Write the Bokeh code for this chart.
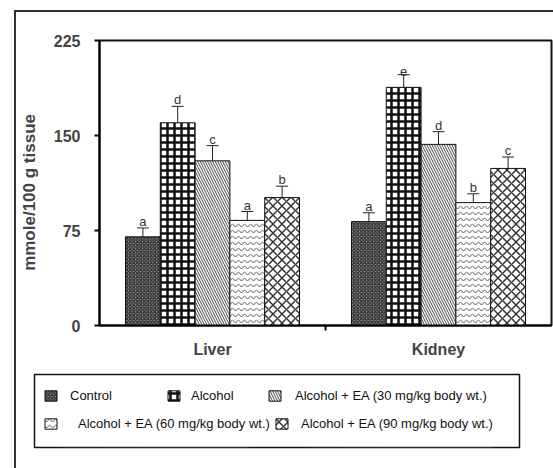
from bokeh.plotting import figure
from bokeh.layouts import column
from bokeh.models import (Range1d, LinearAxis, FixedTicker, ColumnDataSource, Whisker,
                          TeeHead, Legend, LegendItem)
from bokeh.core.properties import value
from bokeh.embed import file_html
from bokeh.resources import INLINE

# Values (mmole/100 g tissue) per treatment, for Liver and Kidney
organs = ["Liver", "Kidney"]
treatments = ["Control", "Alcohol", "Alcohol + EA (30 mg/kg body wt.)",
              "Alcohol + EA (60 mg/kg body wt.)", "Alcohol + EA (90 mg/kg body wt.)"]
liver = [70, 160, 130, 83, 101]
liver_err = [7, 13, 12, 7, 9]
liver_sig = ["a", "d", "c", "a", "b"]
kidney = [82, 188, 143, 97, 124]
kidney_err = [7, 10, 10, 7, 9]
kidney_sig = ["a", "e", "d", "b", "c"]
y_ticks = [0, 75, 150, 225]

FONT = "Liberation Sans"
INK = "#111111"
bar_w = 0.154
styles = [
    dict(fill_color="#8a8a8a", hatch_pattern="diagonal_cross", hatch_color="#1a1a1a",
         hatch_scale=3.5, hatch_weight=1),
    dict(fill_color="white", hatch_pattern="cross", hatch_color="#111111",
         hatch_scale=7, hatch_weight=2.5),
    dict(fill_color="white", hatch_pattern="left_diagonal_line", hatch_color="#444444",
         hatch_scale=5, hatch_weight=1),
    dict(fill_color="white", hatch_pattern="horizontal_wave", hatch_color="#555555",
         hatch_scale=6, hatch_weight=1),
    dict(fill_color="white", hatch_pattern="diagonal_cross", hatch_color="#333333",
         hatch_scale=9, hatch_weight=1.5),
]

sources = []
for j in range(len(treatments)):
    vals = [liver[j], kidney[j]]
    errs = [liver_err[j], kidney_err[j]]
    sources.append(ColumnDataSource(dict(
        x=[i + 0.5 + (j - 2) * bar_w for i in range(len(organs))],
        top=vals,
        upper=[v + e for v, e in zip(vals, errs)],
        lower=[v - e for v, e in zip(vals, errs)],
        sig=[liver_sig[j], kidney_sig[j]])))

# ---- bar chart ----
p = figure(width=537, height=355, x_range=Range1d(0, 2), y_range=Range1d(0, 225),
           output_backend="svg", toolbar_location=None, x_axis_location=None,
           min_border_left=80, min_border_right=5, min_border_top=28, min_border_bottom=42,
           background_fill_color="white", border_fill_color="white", frame_align=False,
           frame_width=452, frame_height=285)
p.grid.visible = False
p.outline_line_color = INK
p.outline_line_width = 2

ya = p.yaxis[0]
ya.ticker = FixedTicker(ticks=y_ticks)
# trailing no-break spaces nudge the rotated title a little lower along the axis
ya.axis_label = "mmole/100 g tissue\u00a0\u00a0\u00a0\u00a0"
ya.axis_label_text_font = FONT
ya.axis_label_text_font_style = "bold"
ya.axis_label_text_font_size = "17px"
ya.axis_label_standoff = 12
ya.major_label_text_font = FONT
ya.major_label_text_font_style = "bold"
ya.major_label_text_font_size = "16px"
ya.major_label_standoff = 14
ya.major_tick_in = 0
ya.major_tick_out = 5
ya.minor_tick_line_color = None
ya.axis_line_width = 2
ya.major_tick_line_width = 2

# x axis: separator tick between the two groups, then the group names
xa = LinearAxis(ticker=FixedTicker(ticks=[1]), major_label_overrides={1: ""},
                major_label_text_font_size="0px", major_tick_in=0, major_tick_out=5,
                minor_tick_line_color=None, axis_line_width=2, major_tick_line_width=2,
                major_label_standoff=0)
p.add_layout(xa, "below")
xl = LinearAxis(ticker=FixedTicker(ticks=[0.5, 1.5]),
                major_label_overrides={0.5: organs[0], 1.5: organs[1]},
                axis_line_color=None, major_tick_line_color=None, minor_tick_line_color=None,
                major_label_text_font=FONT, major_label_text_font_style="bold",
                major_label_text_font_size="16px", major_label_standoff=4)
p.add_layout(xl, "below")

for j, src in enumerate(sources):
    p.vbar(x="x", top="top", width=bar_w, source=src, line_color=INK, line_width=1,
           **styles[j])
    p.add_layout(Whisker(source=src, base="x", upper="upper", lower="lower",
                         line_color="#222222", line_width=1,
                         upper_head=TeeHead(size=12, line_color="#222222", line_width=1),
                         lower_head=TeeHead(size=8, line_color="#222222", line_width=1)))
    p.text(x="x", y="upper", text="sig", source=src, text_align="center",
           text_baseline="bottom", y_offset=1, text_font_size="13px",
           text_color="#333333", text_font=value(FONT))

# ---- legend panel (its frame is the legend box) ----
# the key swatches reuse the bar sources; the y range sits above every bar, so only
# the legend shows them
lf = figure(width=537, height=101, x_range=Range1d(0, 2), y_range=Range1d(300, 301),
            output_backend="svg", toolbar_location=None,
            x_axis_location=None, y_axis_location=None,
            min_border_left=18, min_border_right=34, min_border_top=7, min_border_bottom=21,
            background_fill_color="white", border_fill_color="white", frame_align=False,
            frame_width=485, frame_height=73)
lf.grid.visible = False
lf.outline_line_color = INK
lf.outline_line_width = 1.5

keys = [lf.vbar(x="x", top="top", width=bar_w, source=src, line_color=INK, line_width=1,
                **styles[j]) for j, src in enumerate(sources)]

legend_pos = [(9, 44, 12), (132, 44, 10), (233, 44, 13), (9, 16, 20), (240, 16, 12)]
for j, (lx, ly, so) in enumerate(legend_pos):
    lg = Legend(items=[LegendItem(label=treatments[j], renderers=[keys[j]])],
                location=(lx, ly), orientation="horizontal", padding=0, margin=0,
                border_line_color=None, background_fill_alpha=0,
                glyph_width=15, glyph_height=13, label_standoff=so,
                label_text_font=FONT, label_text_font_size="13px", label_text_color=INK)
    lf.add_layout(lg, "center")

layout = column(p, lf, spacing=0,
                styles={"margin-left": "14px", "margin-top": "10px",
                        "border-left": "2px solid #333333", "border-top": "2px solid #333333"})

open("out.html", "w").write(file_html(layout, INLINE))
